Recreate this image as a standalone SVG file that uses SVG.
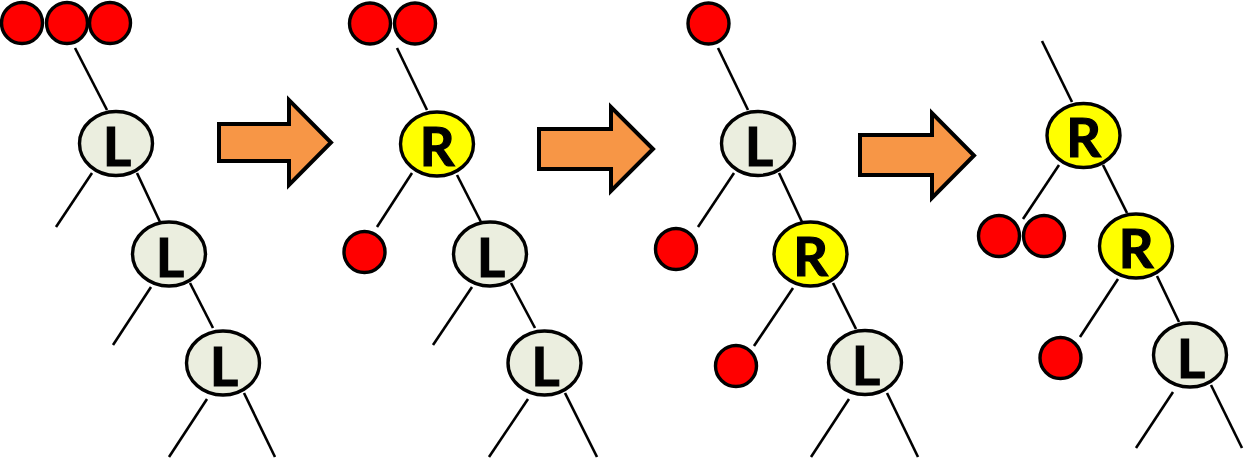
<svg xmlns="http://www.w3.org/2000/svg" width="1244" height="459" viewBox="0 0 1244 459">
<style>
.e{stroke:#000;stroke-width:3.4}
.l{fill:#EBEEDF}
.r{fill:#FFFF00}
.d{fill:#FF0000;stroke:#000;stroke-width:3.4}
.t{font-family:Lato,"Open Sans",sans-serif;font-weight:700;font-size:54px;text-anchor:middle;fill:#000;stroke:#000;stroke-width:1.2}
.c line{stroke:#000;stroke-width:2.6;stroke-linecap:butt}
.a{fill:#F79646;stroke:#000;stroke-width:4;stroke-linejoin:miter}
</style>
<g id="connectors" class="c">
<line x1="75" y1="48" x2="107" y2="110"/>
<line x1="92" y1="173" x2="56" y2="227"/>
<line x1="137" y1="173" x2="160" y2="222"/>
<line x1="151" y1="287" x2="113" y2="345"/>
<line x1="190" y1="283" x2="213" y2="328"/>
<line x1="207" y1="399" x2="169" y2="457"/>
<line x1="244" y1="393" x2="275" y2="457"/>
<line x1="397" y1="48" x2="427" y2="110"/>
<line x1="412" y1="173" x2="377" y2="227"/>
<line x1="457" y1="175" x2="481" y2="222"/>
<line x1="472" y1="287" x2="433" y2="345"/>
<line x1="511" y1="283" x2="535" y2="328"/>
<line x1="528" y1="399" x2="489" y2="457"/>
<line x1="565" y1="393" x2="597" y2="457"/>
<line x1="718" y1="48" x2="748" y2="110"/>
<line x1="734" y1="173" x2="698" y2="227"/>
<line x1="779" y1="173" x2="802" y2="222"/>
<line x1="793" y1="288" x2="754" y2="346"/>
<line x1="833" y1="283" x2="856" y2="329"/>
<line x1="849" y1="399" x2="811" y2="457"/>
<line x1="887" y1="393" x2="918" y2="457"/>
<line x1="1042" y1="41" x2="1072" y2="102"/>
<line x1="1059" y1="165" x2="1023" y2="219"/>
<line x1="1103" y1="165" x2="1127" y2="213"/>
<line x1="1118" y1="279" x2="1080" y2="337"/>
<line x1="1157" y1="276" x2="1179" y2="322"/>
<line x1="1173" y1="392" x2="1136" y2="448"/>
<line x1="1211" y1="385" x2="1242" y2="448"/>
</g>
<g id="arrow1"><polygon class="a" points="219,124 289,124 289,100 331,142.5 289,185 289,161 219,161"/></g>
<g id="arrow2"><polygon class="a" points="539,129 611,129 611,107 653,149 611,191 611,169 539,169"/></g>
<g id="arrow3"><polygon class="a" points="860,135 932,135 932,113 974,155.5 932,198 932,175 860,175"/></g>
<g id="p1-red"><circle class="d" cx="22" cy="23" r="20.5"/><circle class="d" cx="67" cy="23" r="20.5"/><circle class="d" cx="110" cy="23" r="20.5"/></g>
<g id="p1-L1"><ellipse class="e l" cx="116" cy="143.5" rx="36.5" ry="32"/><text class="t" x="117" y="166">L</text></g>
<g id="p1-L2"><ellipse class="e l" cx="169" cy="254" rx="36.5" ry="32"/><text class="t" x="170" y="276.5">L</text></g>
<g id="p1-L3"><ellipse class="e l" cx="223" cy="363" rx="36.5" ry="32"/><text class="t" x="224" y="385.5">L</text></g>
<g id="p2-red"><circle class="d" cx="370" cy="23.5" r="20.5"/><circle class="d" cx="415" cy="23.5" r="20.5"/></g>
<g id="p2-R"><ellipse class="e r" cx="437" cy="144" rx="36.5" ry="32"/><text class="t" x="437" y="165.5">R</text></g>
<g id="p2-red2"><circle class="d" cx="364.5" cy="252" r="20.5"/></g>
<g id="p2-L2"><ellipse class="e l" cx="490" cy="254" rx="36.5" ry="32"/><text class="t" x="491" y="276.5">L</text></g>
<g id="p2-L3"><ellipse class="e l" cx="544.5" cy="363" rx="36.5" ry="32"/><text class="t" x="545.5" y="385.5">L</text></g>
<g id="p3-red"><circle class="d" cx="708.5" cy="23.5" r="20.5"/></g>
<g id="p3-L1"><ellipse class="e l" cx="758" cy="143.5" rx="36.5" ry="32"/><text class="t" x="759" y="166">L</text></g>
<g id="p3-red2"><circle class="d" cx="676" cy="249" r="20.5"/></g>
<g id="p3-R"><ellipse class="e r" cx="810.5" cy="254" rx="36.5" ry="32"/><text class="t" x="810.5" y="275.5">R</text></g>
<g id="p3-red3"><circle class="d" cx="736" cy="366" r="20.5"/></g>
<g id="p3-L3"><ellipse class="e l" cx="865" cy="362.5" rx="36.5" ry="32"/><text class="t" x="866" y="385">L</text></g>
<g id="p4-R1"><ellipse class="e r" cx="1083.5" cy="135.5" rx="36.5" ry="32"/><text class="t" x="1083.5" y="157">R</text></g>
<g id="p4-red"><circle class="d" cx="999" cy="236" r="20.5"/><circle class="d" cx="1044" cy="236" r="20.5"/></g>
<g id="p4-R2"><ellipse class="e r" cx="1136" cy="246" rx="36.5" ry="32"/><text class="t" x="1136" y="267.5">R</text></g>
<g id="p4-red2"><circle class="d" cx="1060.5" cy="358" r="20.5"/></g>
<g id="p4-L"><ellipse class="e l" cx="1190" cy="355" rx="36.5" ry="32"/><text class="t" x="1191" y="377.5">L</text></g>
</svg>
